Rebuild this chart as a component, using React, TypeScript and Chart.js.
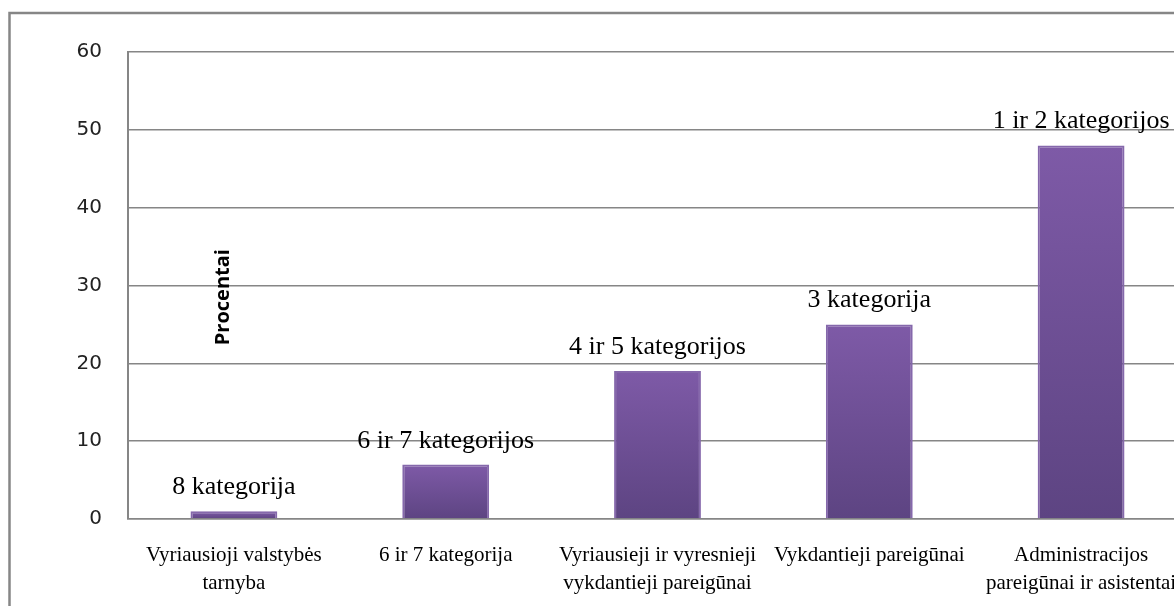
import React, { useEffect, useRef } from "react";
import { Chart, registerables } from "chart.js";

Chart.register(...registerables);

const categories: string[][] = [
  ["Vyriausioji valstybės", "tarnyba"],
  ["6 ir 7 kategorija"],
  ["Vyriausieji ir vyresnieji", "vykdantieji pareigūnai"],
  ["Vykdantieji pareigūnai"],
  ["Administracijos", "pareigūnai ir asistentai"],
];
const values: number[] = [1, 7, 19, 25, 48];
const barLabels: string[] = [
  "8 kategorija",
  "6 ir 7 kategorijos",
  "4 ir 5 kategorijos",
  "3 kategorija",
  "1 ir 2 kategorijos",
];
const yMin = 0;
const yMax = 60;
const yStep = 10;
const yTitle = "Procentai";

const frame = {
  id: "frame",
  beforeDraw(chart: any) {
    const ctx = chart.ctx;
    ctx.save();
    ctx.fillStyle = "#ffffff";
    ctx.fillRect(0, 0, chart.width, chart.height);
    ctx.strokeStyle = "#868686";
    ctx.lineWidth = 2.5;
    ctx.strokeRect(9.5, 13, 1400, 800);
    ctx.restore();
  },
};

const labelsPlugin = {
  id: "barTopLabels",
  afterDatasetsDraw(chart: any) {
    const ctx = chart.ctx;
    const meta = chart.getDatasetMeta(0);
    ctx.save();
    ctx.fillStyle = "#000";
    ctx.font = "26px 'Liberation Serif', 'Times New Roman', serif";
    ctx.textAlign = "center";
    ctx.textBaseline = "alphabetic";
    meta.data.forEach((bar: any, i: number) => {
      ctx.fillText(barLabels[i], bar.x, bar.y - 17);
    });
    const area = chart.chartArea;
    const yScale = chart.scales.y;
    ctx.translate(area.left + 95, yScale.getPixelForValue(28.5));
    ctx.rotate(-Math.PI / 2);
    ctx.font = "bold 20px 'Open Sans', 'Noto Sans', sans-serif";
    ctx.textBaseline = "middle";
    ctx.fillText(yTitle, 0, 0);
    ctx.restore();
  },
};

export default function App() {
  const ref = useRef<HTMLCanvasElement | null>(null);
  useEffect(() => {
    if (!ref.current) return;
    document.body.style.overflow = "hidden";
    const chart = new Chart(ref.current, {
      type: "bar",
      data: {
        labels: categories,
        datasets: [
          {
            data: values,
            backgroundColor: (c: any) => {
              const chartObj = c.chart;
              const ys = chartObj.scales?.y;
              if (!ys || c.dataIndex === undefined) return "#6F5198";
              const top = ys.getPixelForValue(values[c.dataIndex]);
              const bottom = ys.getPixelForValue(0);
              if (!isFinite(top) || !isFinite(bottom) || top === bottom) return "#6F5198";
              const g = chartObj.ctx.createLinearGradient(0, top, 0, bottom);
              g.addColorStop(0, "#7E5AA7");
              g.addColorStop(1, "#5D4482");
              return g;
            },
            borderColor: "#8568AB",
            borderWidth: 2,
            categoryPercentage: 1,
            barPercentage: 0.41,
          },
        ],
      },
      options: {
        animation: false,
        responsive: false,
        maintainAspectRatio: false,
        layout: { padding: { left: 8, top: 52, right: 13, bottom: 0 } },
        plugins: {
          legend: { display: false },
          tooltip: { enabled: false },
          title: { display: false },
        },
        scales: {
          x: {
            grid: { display: false, drawTicks: false },
            border: { display: true, color: "#868686", width: 1.5 },
            ticks: {
              color: "#000",
              padding: 22,
              maxRotation: 0,
              autoSkip: false,
              font: { family: "'Liberation Serif', 'Times New Roman', serif", size: 21, lineHeight: "28px" },
            },
            afterFit: (s: any) => {
              s.height = 87;
            },
          },
          y: {
            min: yMin,
            max: yMax,
            grid: { color: "#868686", lineWidth: 1.5, drawTicks: false },
            border: { display: true, color: "#868686", width: 2 },
            ticks: {
              stepSize: yStep,
              color: "#222",
              padding: 26,
              font: { family: "'DejaVu Sans', Verdana, sans-serif", size: 20 },
            },
            afterFit: (s: any) => {
              s.width = 120;
            },
          },
        },
      },
      plugins: [frame, labelsPlugin],
    });
    return () => chart.destroy();
  }, []);
  return (
    <div style={{ position: "fixed", left: 0, top: 0, width: 1200, height: 606 }}>
      <canvas ref={ref} width={1200} height={606} style={{ width: 1200, height: 606, display: "block" }} />
    </div>
  );
}
